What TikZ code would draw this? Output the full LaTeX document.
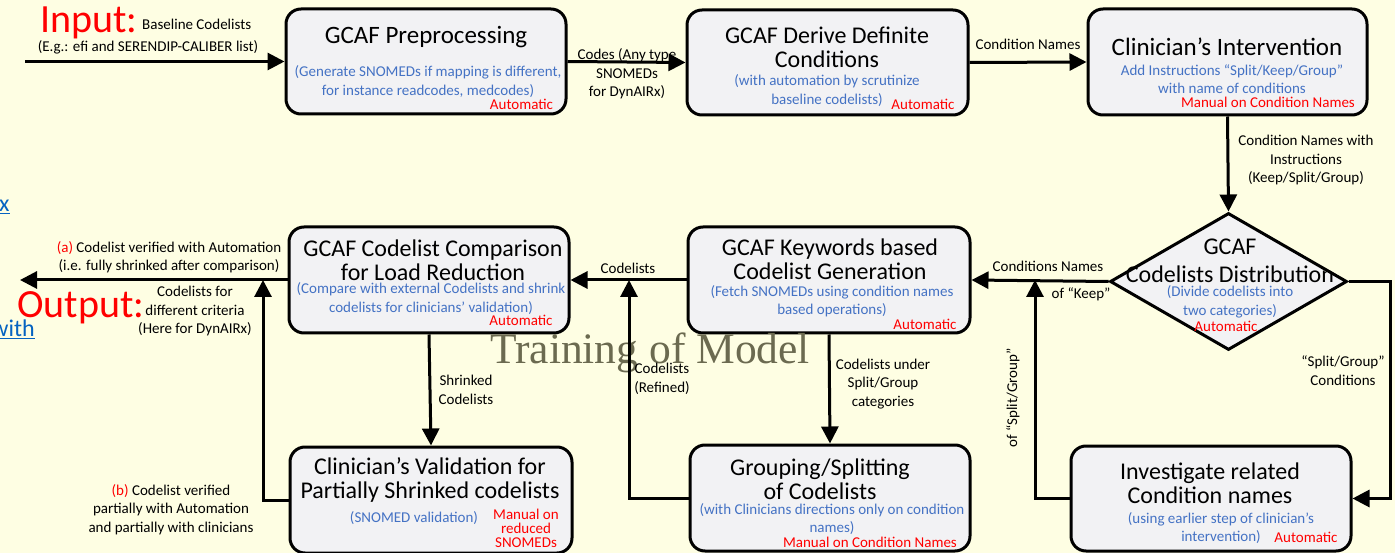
\documentclass[tikz,border=0pt]{standalone}
\usepackage{fontspec}
\setmainfont{Carlito}
\newfontfamily\modelfont{Liberation Serif}
\usetikzlibrary{arrows.meta,shapes.geometric}

\definecolor{paper}{HTML}{FEFEE3}
\definecolor{boxfill}{HTML}{F2F2F4}
\definecolor{noteblue}{HTML}{4472C4}
\definecolor{tagred}{HTML}{FF0000}
\definecolor{linkblue}{HTML}{0563C1}
\definecolor{modelgray}{HTML}{6B6A50}

\tikzset{
  stage/.style={draw, line width=3pt, fill=boxfill, rounded corners=15pt, inner sep=0pt},
  heading/.style={align=center, font=\fontsize{24}{24}\selectfont, inner sep=0pt},
  note/.style={align=center, text=noteblue, font=\fontsize{15}{18.5}\selectfont, inner sep=0pt},
  tag/.style={align=center, text=tagred, font=\fontsize{15}{14}\selectfont, inner sep=0pt},
  lbl/.style={align=center, font=\fontsize{15}{18.5}\selectfont, inner sep=0pt},
  flow/.style={line width=3pt, -{Triangle[length=17pt,width=17pt]}},
}

\begin{document}
\begin{tikzpicture}[x=1pt,y=-1pt]

    \fill[paper] (0,0) rectangle (1395,553);
    \useasboundingbox (0,0) rectangle (1395,553);

    \begin{scope}[every node/.style={stage}]
        \node[minimum width=280, minimum height=105] (pre) at (426,61.5) {}; % first step
        \node[minimum width=281, minimum height=105] (derive) at (827.5,62.5) {};
        \node[minimum width=279, minimum height=106] (interv) at (1227.5,62) {};
        \node[diamond, rounded corners=0pt, minimum width=237, minimum height=137] (dist) at (1228.5,281.5) {};
        \node[minimum width=282, minimum height=106] (keyw) at (829,280) {};
        \node[minimum width=280, minimum height=106] (comp) at (429,280) {};
        \node[minimum width=282, minimum height=106] (valid) at (431,500) {};
        \node[minimum width=280, minimum height=106] (group) at (830,498) {};
        \node[minimum width=280, minimum height=105] (invest) at (1211,498.5) {}; % loop back step
    \end{scope}

    % Texts inside the steps %
    \node[heading, font=\fontsize{25}{25}\selectfont] (preT) at (426,37) {GCAF Preprocessing};
    \node[note] (preN) at (428,81.5) {(Generate SNOMEDs if mapping is different,\\for instance readcodes, medcodes)};
    \node[tag] (preA) at (521.5,104) {Automatic};

    \node[heading] (deriveT) at (827,47.5) {GCAF Derive Definite\\Conditions};
    \node[note] (deriveN) at (827,90.5) {(with automation by scrutinize\\baseline codelists)};
    \node[tag] (deriveA) at (923,104) {Automatic};

    \node[heading, font=\fontsize{25}{25}\selectfont] (intervT) at (1227,47) {Clinician’s Intervention};
    \node[note] (intervN) at (1232,79) {Add Instructions “Split/Keep/Group”\\with name of conditions};
    \node[tag] (intervA) at (1268,102) {Manual on Condition Names};

    \node[heading, font=\fontsize{24}{28}\selectfont] (distT) at (1230,261) {GCAF\\Codelists Distribution};
    \node[note] (distN) at (1230,302) {(Divide codelists into\\two categories)};
    \node[tag] (distA) at (1226,326) {Automatic};

    \node[heading] (keywT) at (830,259.5) {GCAF Keywords based\\Codelist Generation};
    \node[note] (keywN) at (832,301) {(Fetch SNOMEDs using condition names\\based operations)};
    \node[tag] (keywA) at (925,324) {Automatic};

    \node[heading] (compT) at (433,260.5) {GCAF Codelist Comparison\\for Load Reduction};
    \node[note] (compN) at (431,298.5) {(Compare with external Codelists and shrink\\codelists for clinicians' validation)};
    \node[tag] (compA) at (521,320) {Automatic};

    \node[heading] (validT) at (430,479.5) {Clinician’s Validation for\\Partially Shrinked codelists};
    \node[note] (validN) at (414,518) {(SNOMED validation)};
    \node[tag] (validA) at (526,528) {Manual on\\reduced\\SNOMEDs};

    \node[heading] (groupT) at (820,479.5) {Grouping/Splitting\\of Codelists};
    \node[note] (groupN) at (832,519) {(with Clinicians directions only on condition\\names)};
    \node[tag] (groupA) at (870,542) {Manual on Condition Names};

    \node[heading] (investT) at (1210,483.5) {Investigate related\\Condition names};
    \node[note] (investN) at (1221,528) {(using earlier step of clinician’s\\intervention)};
    \node[tag] (investA) at (1306,537) {Automatic};

    % Input, output and other loose texts %
    \node[anchor=base west, inner sep=0pt, text=tagred, font=\fontsize{40}{40}\selectfont] (inputT) at (40,33) {Input:};
    \node[anchor=base west, lbl] (baseL) at (142,30) {Baseline Codelists};
    \node[anchor=base, lbl] (egL) at (148,52) {(E.g.: efi and SERENDIP-CALIBER list)};
    \node[anchor=base west, inner sep=0pt, text=tagred, font=\fontsize{40}{40}\selectfont] (outputT) at (17,318) {Output:};
    \node[anchor=base west, inner sep=0pt, text=linkblue, font=\fontsize{24}{24}\selectfont] (linkX) at (-1,212) {\underline{x}};
    \node[anchor=base east, inner sep=0pt, text=linkblue, font=\fontsize{24}{24}\selectfont] (linkW) at (35,337) {\underline{with}};
    \node[anchor=base west, inner sep=0pt, text=modelgray, font=\modelfont\fontsize{43.5}{43.5}\selectfont] (modelT) at (490,363) {Training of Model};

    \begin{scope}[every node/.style={lbl}]
        \node (codesL) at (627,74) {Codes (Any type\\SNOMEDs\\for DynAIRx)};
        \node (condL) at (1028,44) {Condition Names};
        \node (instrL) at (1306,160.5) {Condition Names with\\Instructions\\(Keep/Split/Group)};
        \node (keepL) at (1048,266) {Conditions Names};
        \node (keepL2) at (1081,294) {of “Keep”};
        \node (splitL) at (1343,370.5) {“Split/Group”\\Conditions};
        \node[rotate=90] (splitL2) at (1013,398) {of “Split/Group”};
        \node (codelL) at (628,268) {Codelists};
        \node (refL) at (662,379) {Codelists\\(Refined)};
        \node (shrL) at (466,390) {Shrinked\\Codelists};
        \node (underL) at (883,384) {Codelists under\\Split/Group\\categories};
        \node (aL) at (169,257) {\textcolor{tagred}{(a)} Codelist verified with Automation\\(i.e. fully shrinked after comparison)};
        \node (critL) at (195,311.5) {Codelists for\\different criteria\\(Here for DynAIRx)};
        \node (bL) at (171,509.5) {\textcolor{tagred}{(b)} Codelist verified\\partially with Automation\\and partially with clinicians};
    \end{scope}

    % free ends and bends %
    \coordinate (intail) at (25,61.5);
    \coordinate (outhead) at (20,280);
    \coordinate (rightbend) at (1390,281.5);
    \coordinate (keepjoin) at (1035,280);
    \coordinate (refjoin) at (629,280);
    \coordinate (valjoin) at (263,280);

    \begin{scope}[every path/.style={flow}]
        \draw (intail) -- (pre.west);
        \draw (pre.east) -- (derive.west);
        \draw (derive.east) -- (interv.west);
        \draw (interv.south) -- (dist.north);
        \draw (dist.west) -- (keyw.east);
        \draw (dist.east) -- (rightbend) |- (invest.east);
        \draw (invest.west) -| (keepjoin);
        \draw (keyw.west) -- (comp.east);
        \draw (keyw.south) -- (group.north);
        \draw (group.west) -| (refjoin);
        \draw (comp.south) -- (valid.north);
        \draw (comp.west) -- (outhead);
        \draw (valid.west) -| (valjoin);
    \end{scope}

\end{tikzpicture}
\end{document}
